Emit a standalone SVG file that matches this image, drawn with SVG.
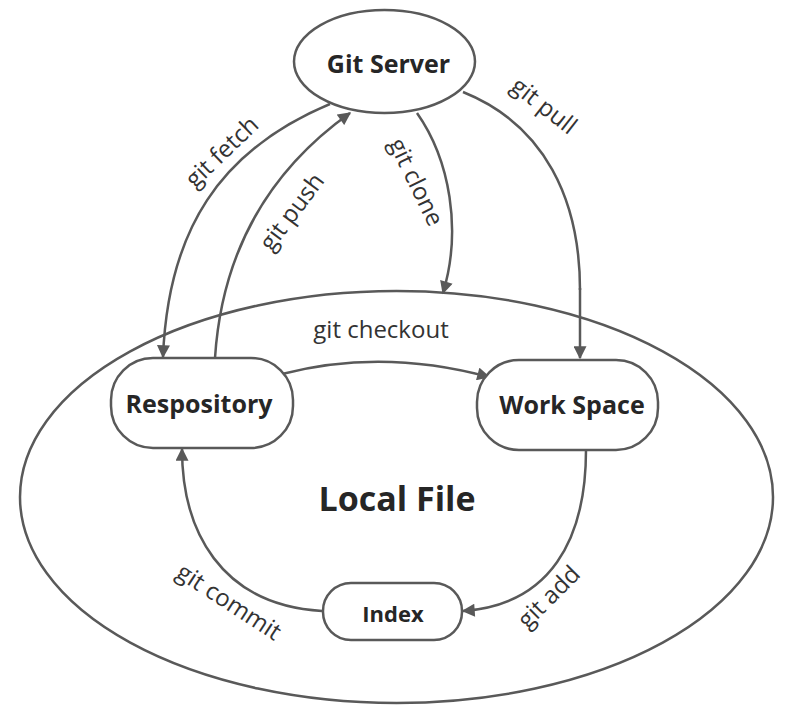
<svg xmlns="http://www.w3.org/2000/svg" width="789" height="727" viewBox="0 0 789 727">
<style>
.shape{fill:#fff;stroke:#595959;stroke-width:2.5}
.edge{fill:none;stroke:#595959;stroke-width:2.5;marker-end:url(#arr)}
.plain{fill:none;stroke:#595959;stroke-width:2.5}
.title{font-family:"Open Sans","Noto Sans",sans-serif;font-weight:bold;fill:#262626;text-anchor:middle}
.lbl{font-family:"Open Sans","Noto Sans",sans-serif;font-weight:normal;font-size:24px;fill:#333;text-anchor:middle}
</style>
<defs>
<marker id="arr" viewBox="0 0 10 10" refX="9" refY="5" markerWidth="14" markerHeight="13" markerUnits="userSpaceOnUse" orient="auto">
<path d="M0,0 L10,5 L0,10 z" fill="#595959"/>
</marker>
</defs>
<rect width="789" height="727" fill="#fff"/>
<g id="local-file">
<ellipse class="shape" cx="396.5" cy="497" rx="376.5" ry="206"/>
<text class="title" x="397" y="511" font-size="34">Local File</text>
</g>
<g id="connectors">
<path class="edge" d="M330,104 C220,150 168,230 163,357"/>
<path class="edge" d="M215,358 C222,250 270,170 350,113"/>
<path class="edge" d="M417,113 C450,160 462,230 443,293"/>
<path class="plain" d="M463,92 C545,125 580,200 580,290"/>
<path class="edge" d="M580,288 L580,358"/>
<path class="edge" d="M282,374 Q382,348 489,377"/>
<path class="edge" d="M586,450 C586,540 550,605 463,611"/>
<path class="edge" d="M322,611 C220,605 182,530 182,449"/>
</g>
<g id="labels">
<text class="lbl" transform="translate(222,152) rotate(-44)" y="8">git fetch</text>
<text class="lbl" transform="translate(292,212) rotate(-53)" y="8">git push</text>
<text class="lbl" transform="translate(416,182) rotate(64)" y="8">git clone</text>
<text class="lbl" transform="translate(544,106) rotate(38)" y="8">git pull</text>
<text class="lbl" x="381" y="338">git checkout</text>
<text class="lbl" transform="translate(229,602) rotate(33)" y="8">git commit</text>
<text class="lbl" transform="translate(549,597) rotate(-45)" y="8">git add</text>
</g>
<g id="git-server">
<ellipse class="shape" cx="384.5" cy="61.5" rx="90.5" ry="51.5"/>
<text class="title" x="388.5" y="73" font-size="25">Git Server</text>
</g>
<g id="respository">
<rect class="shape" x="111" y="358" width="182" height="90" rx="42"/>
<text class="title" x="199" y="413" font-size="25">Respository</text>
</g>
<g id="work-space">
<rect class="shape" x="477" y="360" width="181" height="90" rx="42"/>
<text class="title" x="572" y="414" font-size="25">Work Space</text>
</g>
<g id="index">
<rect class="shape" x="323" y="583" width="139" height="57" rx="28"/>
<text class="title" x="393" y="622" font-size="22">Index</text>
</g>
</svg>
